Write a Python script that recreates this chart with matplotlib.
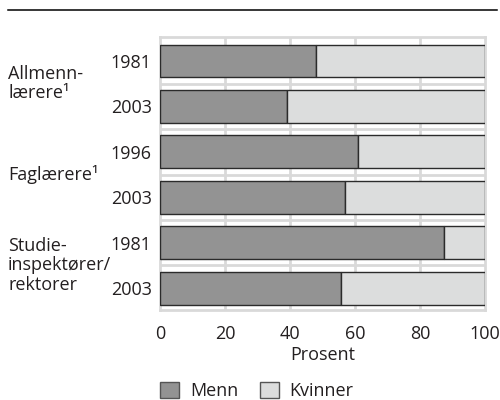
import matplotlib
matplotlib.use("Agg")
import matplotlib.pyplot as plt
from matplotlib.patches import Patch
from matplotlib.lines import Line2D
import numpy as np

plt.rcParams['font.family'] = ['Open Sans', 'DejaVu Sans']

# data
years = ['1981', '2003', '1996', '2003', '1981', '2003']
groups = ['Allmenn-\nlærere¹', 'Faglærere¹', 'Studie-\ninspektører/\nrektorer']
group_pos = [0.5, 2.5, 4.5]  # between the two bars of each group
menn = [48, 39, 61, 57, 87.5, 55.6]
kvinner = [100 - m for m in menn]
xticks = [0, 20, 40, 60, 80, 100]

dark = '#939393'
light = '#dcdddd'
edge = '#2b2b2b'
grid_col = '#d9d9d9'
text_col = '#231f20'

fig = plt.figure(figsize=(5, 4), dpi=100)
ax = fig.add_axes([0.32, 0.225, 0.65, 0.683])

y = np.arange(len(years))
ax.barh(y, menn, height=0.72, color=dark, edgecolor=edge, linewidth=1.0, zorder=3)
ax.barh(y, kvinner, left=menn, height=0.72, color=light, edgecolor=edge, linewidth=1.0, zorder=3)

# light grid: vertical at ticks, horizontal between bars
for xv in xticks[1:-1]:
    ax.axvline(xv, color=grid_col, lw=2, zorder=1)
for yv in y[:-1] + 0.5:
    ax.axhline(yv, color=grid_col, lw=2, zorder=1)

ax.set_xlim(0, 100)
ax.set_ylim(5.48, -0.53)
ax.set_xticks(xticks)
ax.set_yticks(y)
ax.set_yticklabels(years)
ax.tick_params(axis='both', length=0, labelsize=13, colors=text_col)
ax.tick_params(axis='x', pad=11)
ax.tick_params(axis='y', pad=6)
ax.set_xlabel('Prosent', fontsize=13, color=text_col, labelpad=2)
for s in ax.spines.values():
    s.set_color(grid_col)
    s.set_linewidth(2)

# group labels on the left
trans = matplotlib.transforms.blended_transform_factory(fig.transFigure, ax.transData)
for g, gp in zip(groups, group_pos):
    ax.text(8 / 500, gp, g, transform=trans, ha='left', va='center',
            fontsize=13, color=text_col, linespacing=1.1)

# top rule
fig.add_artist(Line2D([8 / 500, 497 / 500], [1 - 10 / 400, 1 - 10 / 400],
                      color='black', lw=1.1, transform=fig.transFigure))

handles = [Patch(facecolor=dark, edgecolor='#555555', label='Menn'),
           Patch(facecolor=light, edgecolor='#555555', label='Kvinner')]
fig.legend(handles=handles, loc='center left', bbox_to_anchor=(160 / 500, 1 - 391 / 400),
           ncol=2, frameon=False, fontsize=13, handlelength=1.05, handleheight=1.05,
           handletextpad=0.6, columnspacing=1.2, borderpad=0, borderaxespad=0,
           labelcolor=text_col)

fig.savefig('out.png', dpi=100)
